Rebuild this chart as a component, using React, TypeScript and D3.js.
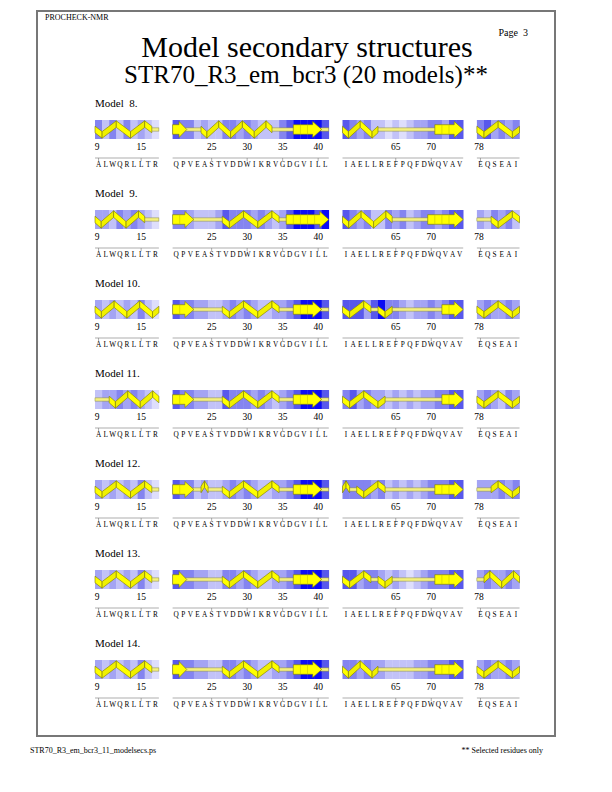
import { useRef, useEffect } from "react";
import * as d3 from "d3";

// residue segments shown (selected residues only)
const segStarts = [9, 20, 58, 78];
const segSeqs = ["ALWQRLLTR", "QPVEASTVDDWIKRVGDGVILL", "IAELLREFPQFDWQVAV", "EQSEAI"];
const tickResidues = [9, 15, 25, 30, 35, 40, 65, 70, 78];
const modelNums = [8, 9, 10, 11, 12, 13, 14];

// secondary structure per model and segment: H helix (first turn down), h helix (first turn up), E strand, - coil
const ssByModel: string[][] = [
  ["HHHHHHHH-", "EE--HHHHHHHHHH---EEEE-", "HHHHH--------EEEE", "HHHHHH"],
  ["HHHHHHH--", "EEE----HHHHHHHH-EEEEEE", "HHHHHHH-----EEEEE", "--HHHH"],
  ["HHHHHHHHH", "EEE----HHHHHHHH--EEEE-", "HHHH-HH-------EEE", "HHHHHH"],
  ["--HHHHHHH", "EEE----HHHHHHHH--EEEE-", "HHHHHH--------EEE", "HHHHHH"],
  ["HHHHHHHH-", "EEE-h--HHHHHHHH--EEEE-", "h-HHHH-------EEEE", "--hhhh"],
  ["HHHHHHHH-", "EE-----HHHHHHHH--EEEE-", "HHHH-HH------EEEE", "-hhhhh"],
  ["HHHHHHHH-", "EE-----HHHHHHHH--EEEE-", "HHHHH--------EEEE", "HHHHHH"],
];

// background shade level (0 light .. 5 deep blue) per residue
const shadeByModel: string[][] = [
  ["313131210", "4331211332321113455554", "43231101012233244", "342323"],
  ["221323210", "3321112433323212455545", "43231132312332344", "213231"],
  ["212121310", "4332211232321122345554", "44424533212232344", "232232"],
  ["122323210", "4332211433323212345554", "34232212121223344", "232132"],
  ["212121310", "4331211232321122345554", "33332312121233344", "222323"],
  ["212121310", "4332211332321122345554", "44233212101233344", "232232"],
  ["212121310", "4332211332321122345554", "33232211112233344", "232232"],
];

const shadeColors = ["#dedefc", "#c2c2f8", "#a4a4f4", "#8484f0", "#5858ec", "#0c0cf4"];

const FONT = '"Liberation Serif", "Times New Roman", Times, serif';

const App: React.FC = () => {
  const svgRef = useRef<SVGSVGElement | null>(null);

  useEffect(() => {
    if (!svgRef.current) return;
    const width = 612;
    const height = 792;
    const cellW = 7.1;
    const gap = 13.7;
    const left = 95;
    const rowStep = 90;
    const firstRow = 107;
    const barH = 19;

    const svg = d3.select(svgRef.current);
    svg.selectAll("*").remove();
    svg.attr("width", width).attr("height", height).attr("viewBox", `0 0 ${width} ${height}`)
      .style("font-family", FONT);

    svg.append("rect").attr("width", width).attr("height", height).attr("fill", "#fff");

    // page frame
    svg.append("rect")
      .attr("x", 37).attr("y", 11).attr("width", 518).attr("height", 725)
      .attr("fill", "none").attr("stroke", "#777").attr("stroke-width", 2);

    const txt = (x: number, y: number, s: string, size: number, anchor = "start") =>
      svg.append("text")
        .attr("x", x).attr("y", y)
        .style("font-family", FONT).attr("font-size", size)
        .attr("text-anchor", anchor)
        .attr("fill", "#000")
        .style("white-space", "pre")
        .text(s);

    txt(45, 20, "PROCHECK-NMR", 8);
    txt(528, 36, "Page  3", 10, "end");
    txt(307, 57, "Model secondary structures", 30, "middle");
    txt(306, 83, "STR70_R3_em_bcr3 (20 models)**", 25, "middle");
    txt(30, 753, "STR70_R3_em_bcr3_11_modelsecs.ps", 8);
    txt(543, 753, "** Selected residues only", 8, "end");

    // x scales, one per segment
    const scales: d3.ScaleLinear<number, number>[] = [];
    let x0 = left;
    segStarts.forEach((s, i) => {
      const n = segSeqs[i].length;
      scales.push(d3.scaleLinear().domain([s, s + n]).range([x0, x0 + n * cellW]));
      x0 += n * cellW + gap;
    });

    const yellow = "#ffff00";
    const edge = "#7a7a00";

    modelNums.forEach((m, mi) => {
      const L = firstRow + mi * rowStep;
      const g = svg.append("g");
      txt(left, L, `Model ${m < 10 ? " " : ""}${m}.`, 11);
      const barTop = L + 13;
      const cy = barTop + barH / 2;

      segStarts.forEach((s, si) => {
        const x = scales[si];
        const seq = segSeqs[si];
        const shades = shadeByModel[mi][si];
        const ss = ssByModel[mi][si];
        const residues = d3.range(s, s + seq.length);

        g.append("g").selectAll("rect")
          .data(residues)
          .join("rect")
          .attr("x", (r) => x(r))
          .attr("y", barTop)
          .attr("width", cellW + 0.3)
          .attr("height", barH)
          .attr("fill", (r) => shadeColors[+shades[r - s]]);

        // runs of identical structure codes
        const runs: { code: string; a: number; b: number }[] = [];
        for (let i = 0; i < ss.length; i++) {
          const c = ss[i];
          const last = runs[runs.length - 1];
          if (last && last.code === c) last.b = s + i;
          else runs.push({ code: c, a: s + i, b: s + i });
        }

        const sg = g.append("g");
        // coil first, underneath
        runs.filter((r) => r.code === "-").forEach((r) => {
          const xa = x(r.a) - (r.a > s ? 1 : 0);
          const xb = x(r.b + 1) + (r.b < s + seq.length - 1 ? 1 : 0);
          sg.append("rect")
            .attr("x", xa).attr("y", cy - 1.6)
            .attr("width", xb - xa).attr("height", 3.2)
            .attr("fill", "#f4f080").attr("stroke", "#8a8a40").attr("stroke-width", 0.5);
        });

        runs.filter((r) => r.code === "E").forEach((r) => {
          const xa = x(r.a);
          const xb = x(r.b + 1);
          const head = Math.min(9, (xb - xa) * 0.55);
          const bh = 4.8;
          const hh = 8;
          sg.append("path")
            .attr("d", `M${xa},${cy - bh}L${xb - head},${cy - bh}L${xb - head},${cy - hh}L${xb},${cy}L${xb - head},${cy + hh}L${xb - head},${cy + bh}L${xa},${cy + bh}Z`)
            .attr("fill", yellow).attr("stroke", edge).attr("stroke-width", 0.6);
          d3.range(r.a + 1, r.b + 1).forEach((k) => {
            if (x(k) < xb - head - 1) {
              sg.append("line")
                .attr("x1", x(k)).attr("x2", x(k))
                .attr("y1", cy - bh).attr("y2", cy + bh)
                .attr("stroke", "#c8c800").attr("stroke-width", 0.6);
            }
          });
        });

        runs.filter((r) => r.code === "H" || r.code === "h").forEach((r) => {
          const xa = x(r.a);
          const xb = x(r.b + 1);
          const len = xb - xa;
          const k = Math.max(1, Math.round(len / 12.8));
          const amp = 5.4;
          const t = 3.3;
          const up = r.code === "h";
          const pts: [number, number][] = [[xa, cy]];
          for (let i = 0; i < k; i++) {
            const dir = (i % 2 === 0) === up ? -1 : 1;
            pts.push([xa + ((i + 0.5) * len) / k, cy + dir * amp]);
          }
          pts.push([xb, cy]);
          for (let i = 0; i < pts.length - 1; i++) {
            const [ax, ay] = pts[i];
            const [bx, by] = pts[i + 1];
            sg.append("path")
              .attr("d", `M${ax},${ay - t}L${bx},${by - t}L${bx},${by + t}L${ax},${ay + t}Z`)
              .attr("fill", by > ay ? yellow : "#f0f000")
              .attr("stroke", edge).attr("stroke-width", 0.6)
              .attr("stroke-linejoin", "round");
          }
        });

        // residue tick labels
        tickResidues.filter((t) => t >= s && t < s + seq.length).forEach((t) => {
          g.append("text")
            .attr("x", x(t + 0.5) - (t === s ? 1.5 : 0)).attr("y", L + 43)
            .attr("text-anchor", "middle")
            .style("font-family", FONT).attr("font-size", 9.5)
            .text(String(t));
        });

        // sequence line, ticks and letters
        const ly = L + 51;
        g.append("line")
          .attr("x1", x(s)).attr("x2", x(s + seq.length))
          .attr("y1", ly).attr("y2", ly)
          .attr("stroke", "#777").attr("stroke-width", 0.6);
        tickResidues.filter((t) => t >= s && t < s + seq.length).forEach((t) => {
          g.append("line")
            .attr("x1", x(t + 0.5)).attr("x2", x(t + 0.5))
            .attr("y1", ly).attr("y2", ly + 3)
            .attr("stroke", "#777").attr("stroke-width", 0.6);
        });
        g.append("g").selectAll("text")
          .data(residues)
          .join("text")
          .attr("x", (r) => x(r + 0.5))
          .attr("y", L + 60)
          .attr("text-anchor", "middle")
          .style("font-family", FONT).attr("font-size", 7.3)
          .text((r) => seq[r - s]);
      });
    });
  }, []);

  return <svg ref={svgRef} style={{ position: "absolute", left: 0, top: 0 }} />;
};

export default App;
